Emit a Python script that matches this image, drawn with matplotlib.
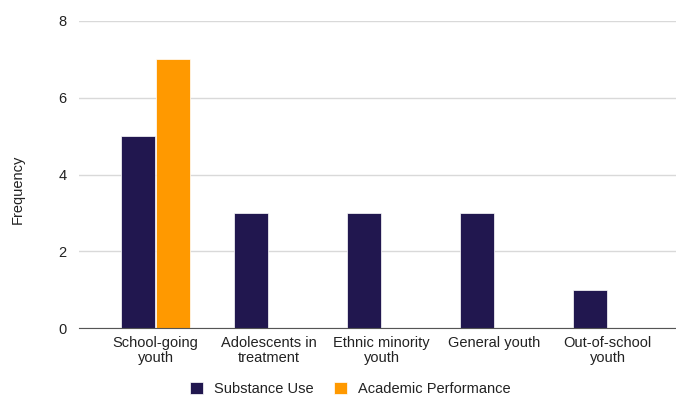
import matplotlib.pyplot as plt
import numpy as np

plt.rcParams['font.family'] = ['Liberation Sans', 'DejaVu Sans']

categories = ['School-going\nyouth', 'Adolescents in\ntreatment', 'Ethnic minority\nyouth',
              'General youth', 'Out-of-school\nyouth']
substance_use = [5, 3, 3, 3, 1]
academic_performance = [7, 0, 0, 0, 0]

fig = plt.figure(figsize=(6.76, 3.97), dpi=100)
ax = fig.add_axes([79 / 676, 1 - 328 / 397, 597 / 676, 307 / 397])

x = np.arange(len(categories))
w = 0.30
ax.bar(x - 0.155, substance_use, w, color='#21174f', edgecolor='white', linewidth=0.5,
       label='Substance Use', zorder=3)
ax.bar(x + 0.155, academic_performance, w, color='#ff9900', edgecolor='white', linewidth=0.5,
       label='Academic Performance', zorder=3)

ax.set_xlim(-0.677, 4.606)
ax.set_ylim(0, 8)
ax.set_yticks([0, 2, 4, 6, 8])
ax.set_xticks(x)
ax.set_xticklabels(categories, fontsize=10.5, color='#222222', linespacing=1.1)
ax.tick_params(axis='y', labelsize=10.5, labelcolor='#222222', length=0, pad=9)
ax.tick_params(axis='x', length=0, pad=6)

ax.grid(axis='y', color='#d9d9d9', linewidth=1, zorder=0)
for s in ['top', 'right', 'left']:
    ax.spines[s].set_visible(False)
ax.spines['bottom'].set_color('#555555')
ax.spines['bottom'].set_zorder(4)

fig.text(18 / 676, 1 - 189 / 397, 'Frequency', rotation=90, ha='center', va='center',
         fontsize=10.5, color='#222222')

fig.legend(loc='center', bbox_to_anchor=(350 / 676, 1 - 389 / 397), ncol=2, frameon=False,
           fontsize=10.5, handlelength=0.9, handleheight=0.9, columnspacing=1.4,
           handletextpad=0.75, labelcolor='#222222')

fig.savefig('out.png', dpi=100)
